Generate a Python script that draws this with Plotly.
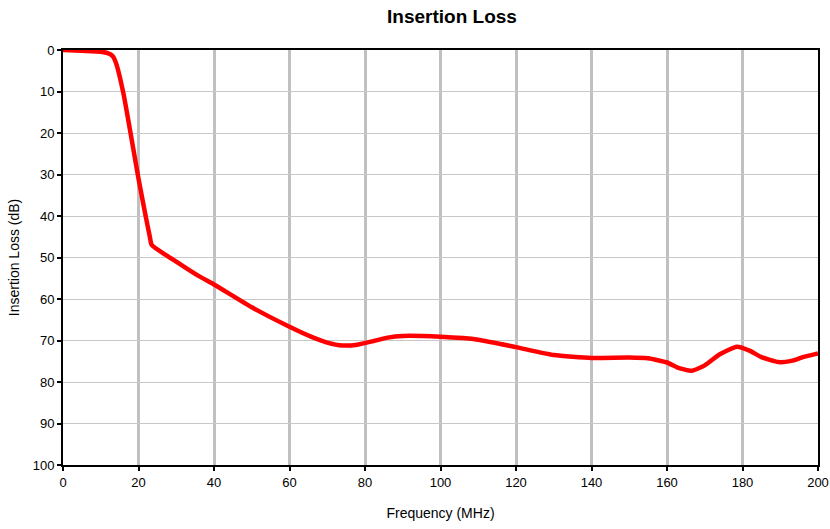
import plotly.graph_objects as go

freq_mhz = [0, 5, 10, 12, 13.2, 14, 16, 18.6, 20, 22, 23, 23.5, 30, 36, 40, 50, 60, 66, 70, 74,
            78, 82, 86, 90, 100, 110, 120, 130, 140, 150, 155, 160, 163, 166.5, 170, 174,
            178.5, 182, 185, 189.5, 193, 196, 200]
loss_db = [0, 0.2, 0.4, 0.8, 1.5, 3, 10.4, 23.7, 31, 40.5, 45, 47, 51, 54.5, 56.5, 62, 66.7, 69.2, 70.5, 71.2,
           71, 70.2, 69.3, 68.9, 69.1, 69.8, 71.6, 73.5, 74.2, 74.1, 74.3, 75.3, 76.6, 77.3, 76, 73.3,
           71.5, 72.5, 74, 75.2, 74.9, 74, 73.1]

fig = go.Figure()
fig.add_trace(go.Scatter(
    x=freq_mhz, y=loss_db, mode="lines",
    line=dict(color="#ff0000", width=4.5, shape="spline", smoothing=0.5),
    hoverinfo="x+y", showlegend=False,
))

font = "Liberation Sans, Arial, sans-serif"
fig.update_layout(
    width=830, height=529,
    margin=dict(l=63, r=12, t=50, b=64),
    paper_bgcolor="white", plot_bgcolor="white",
    font=dict(family=font, size=13, color="black"),
    title=dict(text="<b>Insertion Loss</b>", x=452/830, xref="container", xanchor="center",
               y=1 - 16/529, yref="container", yanchor="middle",
               font=dict(size=19, color="black", family=font)),
)
fig.update_xaxes(
    range=[0, 200], dtick=20, tick0=0, automargin=False,
    showgrid=True, gridcolor="#c0c0c0", gridwidth=3,
    showline=True, linecolor="black", linewidth=2, mirror=True,
    ticks="outside", ticklen=4, tickcolor="black", tickwidth=1.5,
    zeroline=False,
    title=dict(text="Frequency (MHz)", font=dict(size=14), standoff=20),
)
fig.update_yaxes(
    range=[100, 0], dtick=10, tick0=0, automargin=False,
    showgrid=True, gridcolor="#c8c8c8", gridwidth=1,
    showline=True, linecolor="black", linewidth=2, mirror=True,
    ticks="outside", ticklen=4, tickcolor="black", tickwidth=1.5,
    zeroline=False,
    title=dict(text="Insertion Loss (dB)", font=dict(size=14), standoff=10),
)

fig.write_html(
    "out.html",
    config={"displayModeBar": False},
    post_script="document.body.style.margin='0';document.body.style.overflow='hidden';",
)
